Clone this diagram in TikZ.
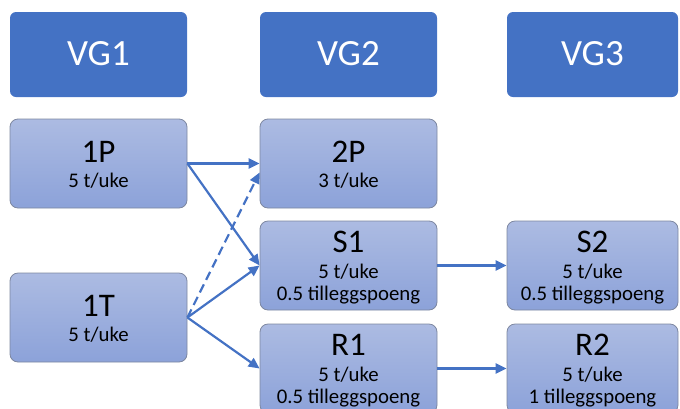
\documentclass[tikz,border=0pt]{standalone}
\usepackage{fontspec}
\setmainfont{Carlito}
\usetikzlibrary{arrows.meta}
\definecolor{hdr}{RGB}{68,114,196}
\definecolor{boxtop}{RGB}{172,187,226}
\definecolor{boxbot}{RGB}{140,162,217}
\definecolor{boxline}{RGB}{125,135,160}
\definecolor{arrowc}{RGB}{68,114,196}
\tikzset{
  hdrbox/.style={rectangle, rounded corners=6pt, fill=hdr, minimum width=177pt, minimum height=85pt, inner sep=0pt},
  subjbox/.style={rectangle, rounded corners=8pt, draw=boxline, line width=0.8pt, top color=boxtop, bottom color=boxbot, minimum width=177pt, minimum height=89pt, inner sep=0pt},
  hdrtext/.style={anchor=base, text=white, font=\fontsize{37}{40}\selectfont, inner sep=0pt},
  titletext/.style={anchor=base, font=\fontsize{33}{36}\selectfont, inner sep=0pt},
  subtext/.style={anchor=base, font=\fontsize{20.8}{24}\selectfont, inner sep=0pt},
  conn/.style={draw=arrowc, line width=2.2pt, -{Triangle[length=11pt,width=10pt]}},
  dashconn/.style={conn, dash pattern=on 9pt off 5pt}
}
\begin{document}
\begin{tikzpicture}[x=1pt,y=-1pt]
\useasboundingbox (0,0) rectangle (680,408);
\clip (0,0) rectangle (680,408);
% headers
\node[hdrbox] (vg1) at (98.5,54.5) {};
\node[hdrbox] (vg2) at (348.5,54.5) {};
\node[hdrbox, minimum width=171pt] (vg3) at (592.5,54.5) {};
\node[hdrtext] (vg1t) at (98.5,65) {VG1};
\node[hdrtext] (vg2t) at (348.5,65) {VG2};
\node[hdrtext] (vg3t) at (592.5,65) {VG3};
% boxes
\node[subjbox] (p1) at (98.5,163.5) {};
\node[subjbox] (t1) at (98.5,317.5) {};
\node[subjbox] (p2) at (348.5,163.5) {};
\node[subjbox] (s1) at (348.5,265.5) {};
\node[subjbox] (r1) at (348.5,368.5) {};
\node[subjbox, minimum width=171pt] (s2) at (592.5,265.5) {};
\node[subjbox, minimum width=171pt] (r2) at (592.5,368.5) {};
% texts
\node[titletext] (p1a) at (98.5,162) {1P};
\node[subtext] (p1b) at (98.5,187) {5 t/uke};
\node[titletext] (t1a) at (98.5,316) {1T};
\node[subtext] (t1b) at (98.5,341) {5 t/uke};
\node[titletext] (p2a) at (348.5,162) {2P};
\node[subtext] (p2b) at (348.5,187) {3 t/uke};
\node[titletext] (s1a) at (348.5,252) {S1};
\node[subtext] (s1b) at (348.5,278) {5 t/uke};
\node[subtext] (s1c) at (348.5,300) {0.5 tilleggspoeng};
\node[titletext] (r1a) at (348.5,355) {R1};
\node[subtext] (r1b) at (348.5,381) {5 t/uke};
\node[subtext] (r1c) at (348.5,403) {0.5 tilleggspoeng};
\node[titletext] (s2a) at (592.5,252) {S2};
\node[subtext] (s2b) at (592.5,278) {5 t/uke};
\node[subtext] (s2c) at (592.5,300) {0.5 tilleggspoeng};
\node[titletext] (r2a) at (592.5,355) {R2};
\node[subtext] (r2b) at (592.5,381) {5 t/uke};
\node[subtext] (r2c) at (592.5,403) {1 tilleggspoeng};
% connectors
\coordinate (p2low) at ([yshift=-9pt]p2.west);
\draw[conn] (p1.east) -- (p2.west);
\draw[conn] (p1.east) -- (s1.west);
\draw[conn] (t1.east) -- (s1.west);
\draw[dashconn] (t1.east) -- (p2low);
\draw[conn] (t1.east) -- (r1.west);
\draw[conn] (s1.east) -- (s2.west);
\draw[conn] (r1.east) -- (r2.west);
\end{tikzpicture}
\end{document}
